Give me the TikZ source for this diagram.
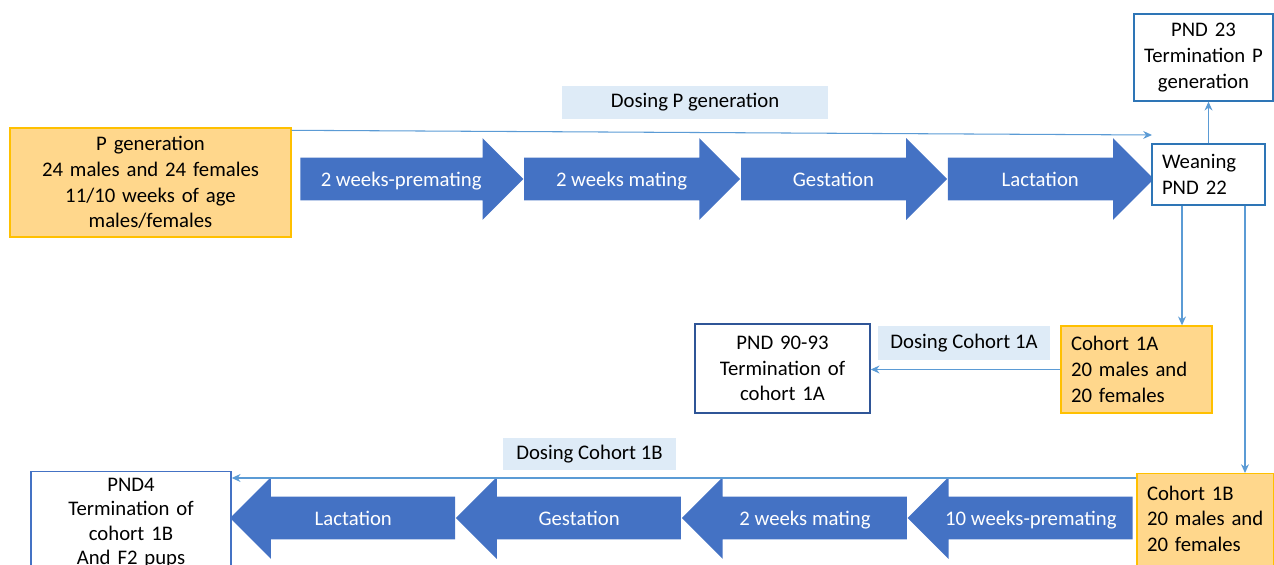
\documentclass[tikz,border=0pt]{standalone}
\usepackage{fontspec}
\setmainfont{Carlito}
\usepackage{xcolor}
\usetikzlibrary{shapes.arrows, arrows.meta}

\definecolor{phaseblue}{HTML}{4472C4}
\definecolor{cohortfill}{HTML}{FFD78C}
\definecolor{cohortline}{HTML}{FFC000}
\definecolor{dosefill}{HTML}{DEEBF7}
\definecolor{linkblue}{HTML}{5B9BD5}
\definecolor{boxline}{HTML}{2E75B6}
\definecolor{darkline}{HTML}{2F5597}

\begin{document}
\begin{tikzpicture}[x=0.2mm, y=-0.2mm,
    font=\fontsize{11.8}{14.6}\selectfont,
    phase/.style={single arrow, fill=phaseblue, text=white, single arrow head extend=3.9mm,
        inner xsep=1mm, inner ysep=2.6mm, text height=3mm, text depth=0.2mm, anchor=tail},
    cohort/.style={draw=cohortline, fill=cohortfill, line width=0.8pt, align=left, inner xsep=2mm},
    termbox/.style={draw=boxline, fill=white, line width=0.8pt, inner xsep=2mm},
    dosing/.style={fill=dosefill, inner sep=0pt},
    link/.style={draw=linkblue, line width=0.6pt, -{Stealth[length=5pt,width=4.5pt]}}]
    \useasboundingbox (0,0) rectangle (1274,565);
    \clip (0,0) rectangle (1274,565);

    % P generation
    \node[cohort, align=center, text width=52.2mm, minimum height=21.8mm] (pgen) at (150.5,182.5) {P generation\\24 males and 24 females\\11/10 weeks of age\\males/females};
    \node[dosing, minimum width=53.2mm, minimum height=6.6mm] (dosep) at (695,102.5) {Dosing P generation};

    \node[phase, minimum height=44.6mm] (pre) at (300,179) {2 weeks-premating};
    \node[phase, minimum height=43.2mm] (mat) at (pre.tip) {2 weeks mating};
    \node[phase, minimum height=41.2mm] (ges) at (mat.tip) {Gestation};
    \node[phase, minimum height=41.2mm] (lac) at (ges.tip) {Lactation};

    \node[termbox, align=center, text width=23.8mm, minimum height=17.4mm] (pnd23) at (1203.5,57.5) {PND 23\\Termination P\\generation};
    \node[termbox, align=left, text width=18.6mm, minimum height=12.2mm] (wean) at (1208.5,174.5) {Weaning\\PND 22};

    % cohort 1A
    \node[cohort, text width=26.2mm, minimum height=17.4mm] (coh1a) at (1136.5,369.5) {Cohort 1A\\20 males and\\20 females};
    \node[dosing, minimum width=34.4mm, minimum height=6.8mm] (dose1a) at (964,343) {Dosing Cohort 1A};
    \node[termbox, draw=darkline, align=center, text width=31mm, minimum height=17.8mm] (pnd90) at (782.5,368.5) {PND 90-93\\Termination of\\cohort 1A};

    % cohort 1B
    \node[cohort, text width=23.4mm, text depth=14mm, inner ysep=2.4mm, anchor=north] (coh1b) at (1205.5,473) {Cohort 1B\\20 males and\\20 females};
    \node[dosing, minimum width=34.6mm, minimum height=6.4mm] (dose1b) at (589.5,454) {Dosing Cohort 1B};

    \node[phase, shape border rotate=180, minimum height=45mm] (prem2) at (1133,518) {10 weeks-premating};
    \node[phase, shape border rotate=180, minimum height=45mm] (mat2) at (prem2.tip) {2 weeks mating};
    \node[phase, shape border rotate=180, minimum height=45mm] (ges2) at (mat2.tip) {Gestation};
    \node[phase, shape border rotate=180, minimum height=45mm] (lac2) at (ges2.tip) {Lactation};

    \node[termbox, draw=phaseblue, align=center, text width=36mm, text depth=18mm, inner ysep=1.2mm, anchor=north,
        font=\fontsize{11.8}{14}\selectfont] (pnd4) at (131,471) {PND4\\Termination of\\cohort 1B\\And F2 pups};

    % connectors
    \coordinate (dosepend) at (1152,135);
    \draw[link] ([yshift=-0.6mm]pgen.north east) -- (dosepend);
    \draw[link] (wean.north) -- (wean.north |- pnd23.south);
    \draw[link] ([xshift=-5.3mm]wean.south) -- ([xshift=-5.3mm]wean.south |- coh1a.north);
    \draw[link] ([xshift=7.3mm]wean.south) -- ([xshift=7.3mm]wean.south |- coh1b.north);
    \draw[link] (coh1a.west) -- (coh1a.west -| pnd90.east);
    \draw[link] ([yshift=-1mm]coh1b.north west) -- ([yshift=-1mm]coh1b.north west -| pnd4.east);
\end{tikzpicture}
\end{document}
